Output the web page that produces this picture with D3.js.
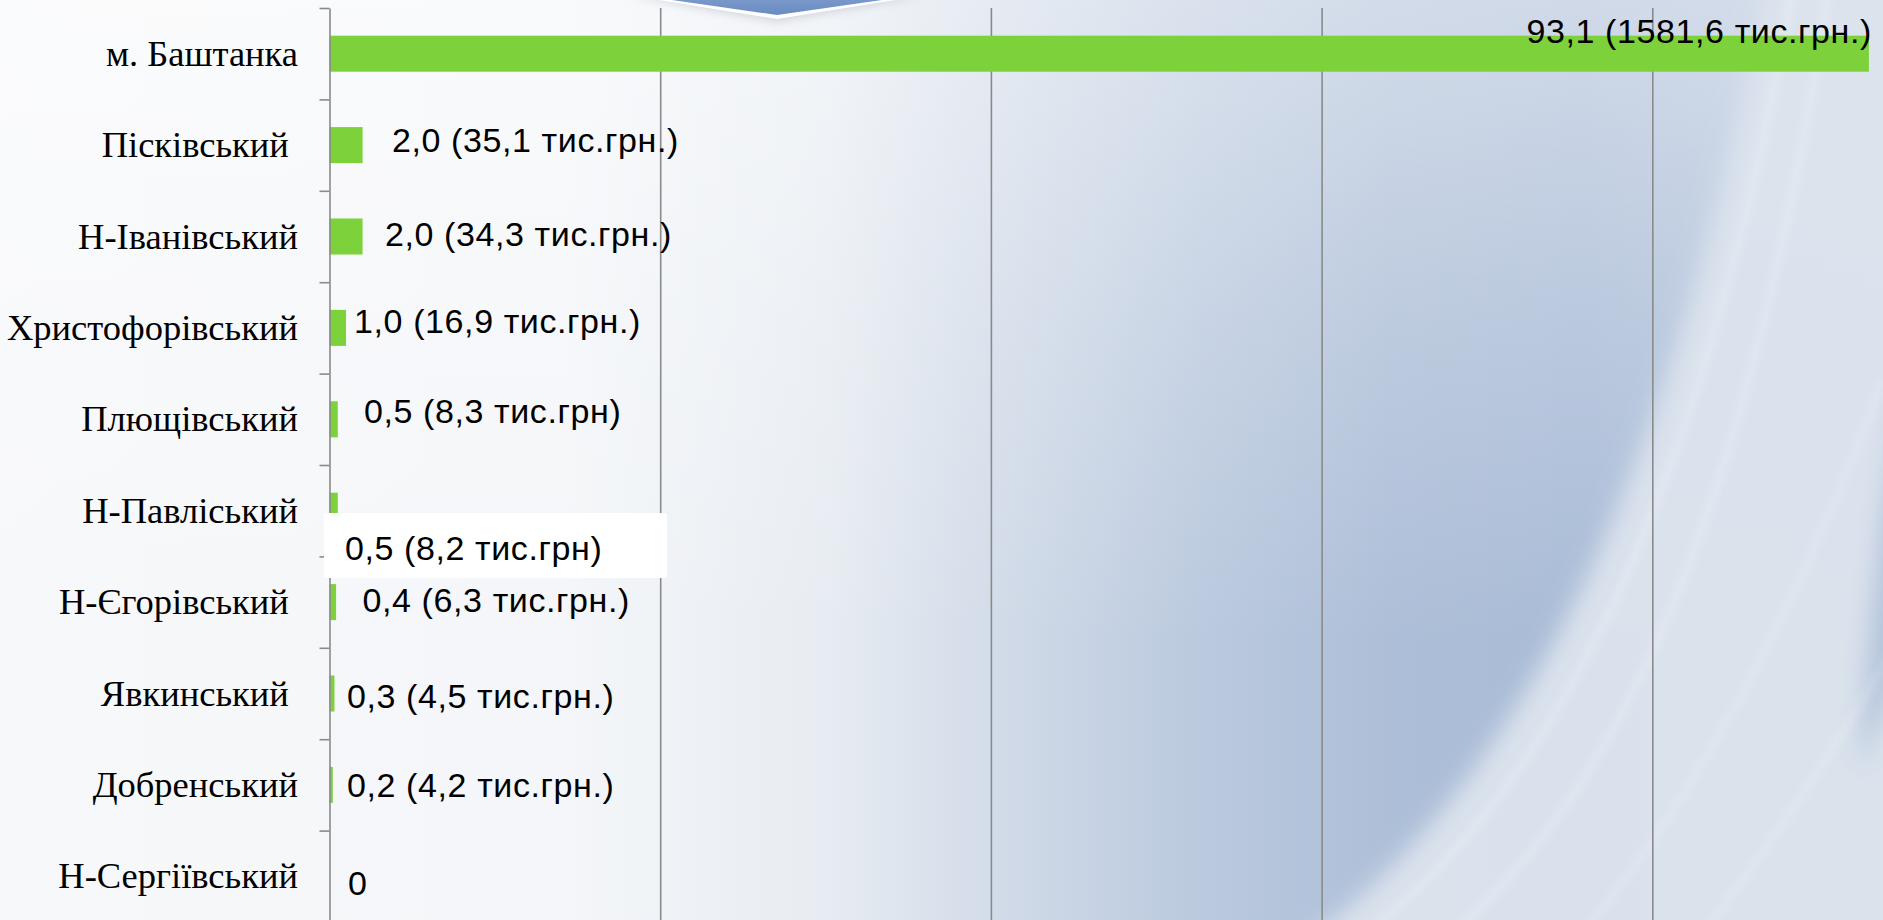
<!DOCTYPE html>
<html>
<head>
<meta charset="utf-8">
<script src="https://cdn.jsdelivr.net/npm/d3@7/dist/d3.min.js"></script>
<style>
  html, body { margin: 0; padding: 0; overflow: hidden; background: #f7f8fa; }
  svg { display: block; }
</style>
</head>
<body>
<svg id="chart" width="1883" height="920"></svg>
<script>
// ---- data ----
const categories = ["м. Баштанка", "Пісківський ", "Н-Іванівський", "Христофорівський", "Плющівський",
                    "Н-Павліський", "Н-Єгорівський ", "Явкинський ", "Добренський", "Н-Сергіївський"];
const values = [93.1, 2.0, 2.0, 1.0, 0.5, 0.5, 0.4, 0.3, 0.2, 0];
const valueLabels = ["93,1 (1581,6 тис.грн.)", "2,0 (35,1 тис.грн.)", "2,0 (34,3 тис.грн.)",
                     "1,0 (16,9 тис.грн.)", "0,5 (8,3 тис.грн)", "0,5 (8,2 тис.грн)",
                     "0,4 (6,3 тис.грн.)", "0,3 (4,5 тис.грн.)", "0,2 (4,2 тис.грн.)", "0"];
const xTicks = [0, 20, 40, 60, 80, 100];

// ---- layout ----
const W = 1883, H = 920;
const svg = d3.select("#chart");
const defs = svg.append("defs");

// background gradients
const lg = defs.append("linearGradient").attr("id", "bgH")
  .attr("gradientUnits", "userSpaceOnUse").attr("x1", 0).attr("x2", W).attr("y1", 0).attr("y2", 0);
[[0, "#f7f8fa"], [0.3, "#f4f6f9"], [0.44, "#e7ecf2"], [0.54, "#cfd9e7"], [0.64, "#bac9de"],
 [0.74, "#adbed7"], [0.84, "#a9bbd6"], [1, "#b3c3da"]]
  .forEach(s => lg.append("stop").attr("offset", s[0]).attr("stop-color", s[1]));
const vg = defs.append("linearGradient").attr("id", "bgV")
  .attr("x1", 0).attr("x2", 0).attr("y1", 0).attr("y2", 1);
[[0, 0.45], [0.35, 0.2], [0.7, 0.0], [1, 0.0]]
  .forEach(s => vg.append("stop").attr("offset", s[0]).attr("stop-color", "#ffffff").attr("stop-opacity", s[1]));

const blur = (id, sd) => defs.append("filter").attr("id", id)
  .attr("x", "-50%").attr("y", "-50%").attr("width", "200%").attr("height", "200%")
  .append("feGaussianBlur").attr("stdDeviation", sd);
blur("b12", 12); blur("b4", 4);

const bg = svg.append("g");
bg.append("rect").attr("width", W).attr("height", H).attr("fill", "url(#bgH)");
bg.append("rect").attr("width", W).attr("height", H).attr("fill", "url(#bgV)");
// light swoosh lower right
bg.append("path")
  .attr("d", "M1280,960 C1480,820 1660,560 1770,-40 L1960,-40 L1960,960 Z")
  .attr("fill", "#dde4ee").attr("opacity", 0.95).attr("filter", "url(#b12)");
// blue band on the far right
bg.append("path")
  .attr("d", "M1960,180 C1910,320 1878,480 1860,770 C1890,700 1930,600 1960,540 Z")
  .attr("fill", "#afc0d9").attr("opacity", 0.9).attr("filter", "url(#b12)");
// streaks
const streaks = [
  "M1330,960 C1520,830 1690,570 1795,-20",
  "M1420,960 C1590,830 1740,580 1830,-20",
  "M1560,960 C1700,800 1800,600 1883,380",
  "M1680,960 C1780,840 1850,720 1900,640"
];
streaks.forEach((d, i) => bg.append("path").attr("d", d).attr("fill", "none")
  .attr("stroke", "#ffffff").attr("stroke-width", i < 2 ? 4 : 3)
  .attr("opacity", 0.4).attr("filter", "url(#b4)"));

// top decoration (slide header fragment)
const hdr = defs.append("linearGradient").attr("id", "hdr").attr("x1", 0).attr("x2", 0).attr("y1", 0).attr("y2", 1);
hdr.append("stop").attr("offset", 0).attr("stop-color", "#7d9acb");
hdr.append("stop").attr("offset", 1).attr("stop-color", "#6a8cc2");
bg.append("path").attr("d", "M630,-4 L777,22 L925,-4 Z").attr("fill", "#a8b0bd").attr("opacity", 0.45).attr("filter", "url(#b4)");
bg.append("path").attr("d", "M634,-4 L777,19 L920,-4 Z").attr("fill", "#ffffff");
bg.append("path").attr("d", "M644,-4 L777,15 L910,-4 Z").attr("fill", "url(#hdr)");

// scales
const x = d3.scaleLinear().domain([0, 100]).range([329.5, 1983]);
const y = d3.scaleBand().domain(categories).range([8, 922]).paddingInner(0.606).paddingOuter(0.303);
const yIdx = d3.scaleLinear().domain([0, categories.length]).range([8, 922]);

// vertical gridlines
const grid = svg.append("g").attr("transform", "translate(0,8)")
  .call(d3.axisTop(x).tickValues(xTicks.slice(1)).tickSize(-(H - 8)).tickFormat(""));
grid.select(".domain").remove();
grid.selectAll("line").attr("stroke", "#8a8a8a").attr("stroke-width", 1.6);

// bars
svg.append("g").selectAll("rect").data(values).join("rect")
  .attr("x", x(0))
  .attr("y", (d, i) => y(categories[i]))
  .attr("width", d => x(d) - x(0))
  .attr("height", y.bandwidth())
  .attr("fill", "#7dd13a");

// y axis with boundary ticks
const yAx = svg.append("g").attr("transform", `translate(${x(0)},0)`)
  .call(d3.axisLeft(yIdx).ticks(categories.length).tickSize(10).tickSizeOuter(0).tickFormat(""));
yAx.select(".domain").attr("stroke", "#8a8a8a").attr("stroke-width", 1.6);
yAx.selectAll("line").attr("stroke", "#8a8a8a").attr("stroke-width", 1.6);

// category labels
svg.append("g").selectAll("text").data(categories).join("text")
  .attr("x", 298)
  .attr("y", d => y(d) + y.bandwidth() / 2 + 12)
  .attr("text-anchor", "end")
  .style("white-space", "pre")
  .attr("font-family", "'Liberation Serif', 'Times New Roman', serif")
  .attr("font-size", 36.5)
  .attr("fill", "#000")
  .text(d => d);

// value labels (manual placement like the original slide)
const labelDx = [3, 29.4, 22.4, 8, 26.2, 7.2, 26.4, 12.5, 14.2, 18.5];
const labelDy = [-10.4, 6.6, 9.2, 4.7, 4, 49.3, 9.7, 14.8, 11.7, 18.7];
const vl = svg.append("g");
values.forEach((v, i) => {
  const cx = x(v) + labelDx[i];
  const cy = y(categories[i]) + y.bandwidth() / 2 + labelDy[i];
  if (i === 5) {
    vl.append("rect").attr("x", cx - 21).attr("y", cy - 47).attr("width", 343).attr("height", 65)
      .attr("rx", 3).attr("fill", "#ffffff");
  }
  vl.append("text")
    .attr("x", cx).attr("y", cy)
    .attr("text-anchor", i === 0 ? "end" : "start")
    .attr("font-family", "'Liberation Sans', Arial, sans-serif")
    .attr("font-size", 34)
    .attr("letter-spacing", "0.6px")
    .attr("fill", "#000")
    .text(valueLabels[i]);
});
</script>
</body>
</html>
